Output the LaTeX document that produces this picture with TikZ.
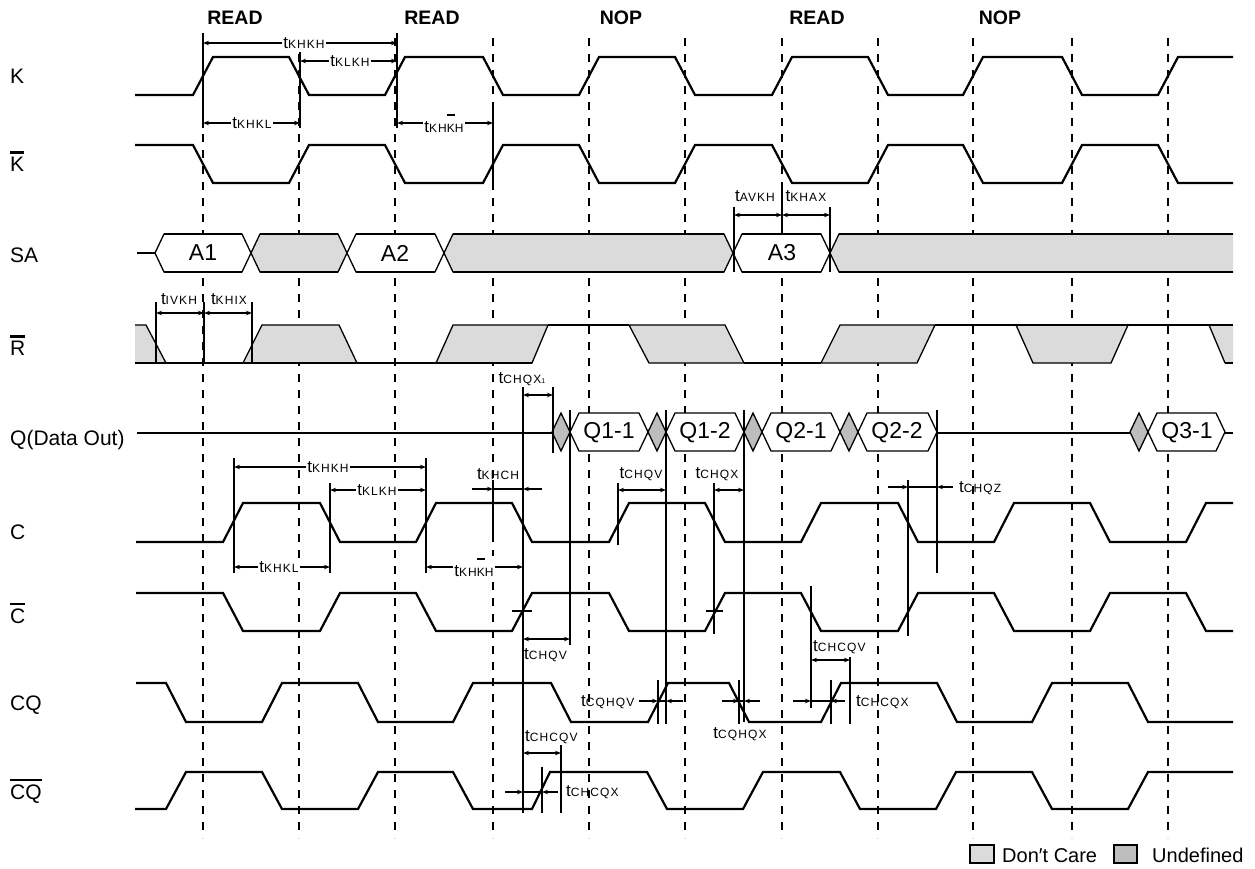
\documentclass[tikz,border=0pt]{standalone}
\usepackage{fontspec}
\setmainfont{Liberation Sans}
\usetikzlibrary{arrows.meta}
\definecolor{dcare}{gray}{0.86}
\definecolor{undef}{gray}{0.74}
\def\tm#1{{\fontsize{17}{17}\selectfont t}{\fontsize{12}{12}\selectfont\addfontfeatures{LetterSpace=9}#1}}
\def\ob#1{\setbox0\hbox{#1}\rlap{\raisebox{\dimexpr\ht0+8pt\relax}{\rule{\wd0}{2.2pt}}}\box0}
\def\nb#1{\setbox0\hbox{#1}\rlap{\raisebox{\dimexpr\ht0+3pt\relax}{\rule{\wd0}{2.6pt}}}\box0}
\def\hexa[#1](#2:#3:#4:#5){\draw[#1] (#2,{(#4+#5)/2}) -- ({#2+9},#4) -- ({#3-9},#4) -- (#3,{(#4+#5)/2}) -- ({#3-9},#5) -- ({#2+9},#5) -- cycle;}
\def\diam[#1](#2:#3:#4){\draw[#1] (#2,{(#3+#4)/2}) -- ({#2+9},#3) -- ({#2+18},{(#3+#4)/2}) -- ({#2+9},#4) -- cycle;}
\tikzset{
  wave/.style={line width=2.2pt},
  thinedge/.style={line width=1.3pt},
  dashv/.style={line width=1.8pt, dash pattern=on 8pt off 8pt},
  vbar/.style={line width=2.6pt},
  dimline/.style={line width=1.4pt, {Stealth[length=6pt,width=4.5pt]}-{Stealth[length=6pt,width=4.5pt]}},
  onehead/.style={line width=1.4pt, -{Stealth[length=6pt,width=4.5pt]}},
  tlab/.style={fill=white, inner sep=1.5pt},
  siglab/.style={anchor=base west, inner sep=0pt, font=\fontsize{21}{21}\selectfont},
  oplab/.style={font=\fontsize{19.5}{19.5}\selectfont\bfseries},
  buslab/.style={font=\fontsize{23}{23}\selectfont}
}

\begin{document}
\begin{tikzpicture}[x=1pt,y=-1pt]
		\useasboundingbox (0,0) rectangle (1255,868);
		
		%%%%% CYCLE LINES %%%%%
		\draw[dashv] (203,38) -- (203,838);
		\draw[dashv] (299,38) -- (299,838);
		\draw[dashv] (395,38) -- (395,838);
		\draw[dashv] (493,38) -- (493,838);
		\draw[dashv] (589,38) -- (589,838);
		\draw[dashv] (685,38) -- (685,838);
		\draw[dashv] (782,38) -- (782,838);
		\draw[dashv] (878,38) -- (878,838);
		\draw[dashv] (973,38) -- (973,838);
		\draw[dashv] (1072,38) -- (1072,838);
		\draw[dashv] (1168,38) -- (1168,838);
		
		\node[oplab] (op1) at (235,18) {READ};
		\node[oplab] (op2) at (432,18) {READ};
		\node[oplab] (op3) at (621,18) {NOP};
		\node[oplab] (op4) at (817,18) {READ};
		\node[oplab] (op5) at (1000,18) {NOP};
		
		\node[siglab] (sk) at (10,83) {K};
		\node[siglab] (skb) at (10,171) {\nb{K}};
		\node[siglab] (ssa) at (10,262) {SA};
		\node[siglab] (srb) at (10,355) {\nb{R}};
		\node[siglab] (sq) at (10,445) {Q(Data Out)};
		\node[siglab] (sc) at (10,539) {C};
		\node[siglab] (scb) at (10,623) {\nb{C}};
		\node[siglab] (scq) at (10,710) {CQ};
		\node[siglab] (scqb) at (10,799) {\nb{CQ}};
		
		%%%%% CLOCKS %%%%%
		\draw[wave] (135,95) -- (193,95) -- (213,57) -- (289,57) -- (309,95) -- (385,95) -- (405,57) -- (483,57) -- (503,95) -- (579,95) -- (599,57) -- (675,57) -- (695,95) -- (772,95) -- (792,57) -- (868,57) -- (888,95) -- (963,95) -- (983,57) -- (1062,57) -- (1082,95) -- (1158,95) -- (1178,57) -- (1233,57);
		\draw[wave] (135,145) -- (193,145) -- (213,183) -- (289,183) -- (309,145) -- (385,145) -- (405,183) -- (483,183) -- (503,145) -- (579,145) -- (599,183) -- (675,183) -- (695,145) -- (772,145) -- (792,183) -- (868,183) -- (888,145) -- (963,145) -- (983,183) -- (1062,183) -- (1082,145) -- (1158,145) -- (1178,183) -- (1233,183);
		
		\draw[wave] (136,542) -- (223,542) -- (243,503) -- (320,503) -- (340,542) -- (416,542) -- (436,503) -- (512,503) -- (532,542) -- (609,542) -- (629,503) -- (705,503) -- (725,542) -- (801,542) -- (821,503) -- (898,503) -- (918,542) -- (994,542) -- (1014,503) -- (1090,503) -- (1110,542) -- (1186,542) -- (1206,503) -- (1233,503);
		\draw[wave] (136,593) -- (223,593) -- (243,631) -- (320,631) -- (340,593) -- (416,593) -- (436,631) -- (512,631) -- (532,593) -- (609,593) -- (629,631) -- (705,631) -- (725,593) -- (801,593) -- (821,631) -- (898,631) -- (918,593) -- (994,593) -- (1014,631) -- (1090,631) -- (1110,593) -- (1186,593) -- (1206,631) -- (1233,631);
		
		\draw[wave] (136,683) -- (166,683) -- (186,722) -- (262,722) -- (282,683) -- (358,683) -- (378,722) -- (453,722) -- (473,683) -- (551,683) -- (571,722) -- (648,722) -- (668,683) -- (729,683) -- (749,722) -- (821,722) -- (841,683) -- (937,683) -- (957,722) -- (1032,722) -- (1052,683) -- (1128,683) -- (1148,722) -- (1233,722);
		\draw[wave] (135,809) -- (166,809) -- (186,772) -- (262,772) -- (282,809) -- (358,809) -- (378,772) -- (453,772) -- (473,809) -- (532,809) -- (550,772) -- (647,772) -- (667,809) -- (743,809) -- (763,772) -- (840,772) -- (860,809) -- (936,809) -- (956,772) -- (1032,772) -- (1052,809) -- (1128,809) -- (1148,772) -- (1233,772);
		
		%%%%% SA %%%%%
		\draw[wave] (137,253) -- (155,253);
		\hexa[fill=white,thinedge](155:251:234:272)
		\hexa[fill=dcare,thinedge](251:347:234:272)
		\hexa[fill=white,thinedge](347:444:234:272)
		\hexa[fill=dcare,thinedge](444:733:234:272)
		\hexa[fill=white,thinedge](733:830:234:272)
		\fill[dcare] (830,253) -- (839,234) -- (1233,234) -- (1233,272) -- (839,272) -- cycle;
		\draw[thinedge] (1233,234) -- (839,234) -- (830,253) -- (839,272) -- (1233,272);
		\draw[wave] (164,234) -- (242,234) (260,234) -- (338,234) (356,234) -- (435,234) (453,234) -- (724,234) (742,234) -- (821,234) (839,234) -- (1233,234);
		\draw[wave] (164,272) -- (242,272) (260,272) -- (338,272) (356,272) -- (435,272) (453,272) -- (724,272) (742,272) -- (821,272) (839,272) -- (1233,272);
		\node[buslab] (a1) at (203,253) {A1};
		\node[buslab] (a2) at (395,253) {A2};
		\node[buslab] (a3) at (782,253) {A3};
		
		%%%%% R %%%%%
		\fill[dcare] (135,325) -- (146,325) -- (166,363) -- (135,363) -- cycle;
		\draw[thinedge] (135,325) -- (146,325) -- (166,363);
		\filldraw[fill=dcare,thinedge] (243,363) -- (262,325) -- (339,325) -- (357,363) -- cycle;
		\filldraw[fill=dcare,thinedge] (436,363) -- (453,325) -- (548,325) -- (532,363) -- cycle;
		\filldraw[fill=dcare,thinedge] (629,325) -- (725,325) -- (744,363) -- (649,363) -- cycle;
		\filldraw[fill=dcare,thinedge] (821,363) -- (840,325) -- (935,325) -- (917,363) -- cycle;
		\filldraw[fill=dcare,thinedge] (1016,325) -- (1128,325) -- (1111,363) -- (1033,363) -- cycle;
		\fill[dcare] (1209,325) -- (1233,325) -- (1233,363) -- (1225,363) -- cycle;
		\draw[thinedge] (1209,325) -- (1225,363);
		\draw[wave] (135,363) -- (532,363) (548,325) -- (629,325) (744,363) -- (821,363) (935,325) -- (1233,325) (1225,363) -- (1233,363);
		
		%%%%% Q %%%%%
		\draw[wave] (137,433) -- (552,433) (937,433) -- (1130,433) (1225,433) -- (1233,433);
		\diam[fill=undef,thinedge](552:413:451)
		\diam[fill=undef,thinedge](648:413:451)
		\diam[fill=undef,thinedge](744:413:451)
		\diam[fill=undef,thinedge](840:413:451)
		\diam[fill=undef,thinedge](1130:413:451)
		\hexa[fill=white,thinedge](570:648:413:451)
		\hexa[fill=white,thinedge](666:744:413:451)
		\hexa[fill=white,thinedge](762:840:413:451)
		\hexa[fill=white,thinedge](858:937:413:451)
		\hexa[fill=white,thinedge](1148:1225:413:451)
		\node[buslab] (q11) at (609,433) {Q1-1};
		\node[buslab] (q12) at (705,433) {Q1-2};
		\node[buslab] (q21) at (801,433) {Q2-1};
		\node[buslab] (q22) at (897,433) {Q2-2};
		\node[buslab] (q31) at (1187,433) {Q3-1};
		
		%%%%% K TIMING %%%%%
		\draw[vbar] (203,33) -- (203,128);
		\draw[vbar] (300,52) -- (300,128);
		\draw[vbar] (397,33) -- (397,128);
		\draw[vbar] (493,110) -- (493,185);
		\draw[dimline] (203,43) -- (397,43);
		\draw[dimline] (300,61) -- (397,61);
		\draw[dimline] (203,123) -- (300,123);
		\draw[dimline] (397,123) -- (493,123);
		\node[tlab] (khkh1) at (304,43) {\tm{KHKH}};
		\node[tlab] (klkh1) at (350,61) {\tm{KLKH}};
		\node[tlab] (khkl1) at (252,123) {\tm{KHKL}};
		\node[tlab] (khkbh1) at (444,123) {\tm{KH\ob{K}H}};
		
		%%%%% SA TIMING %%%%%
		\draw[vbar] (734,207) -- (734,272);
		\draw[vbar] (782,188) -- (782,234);
		\draw[vbar] (830,207) -- (830,272);
		\draw[dimline] (734,215) -- (782,215);
		\draw[dimline] (782,215) -- (830,215);
		\node (avkh) at (755,196) {\tm{AVKH}};
		\node (khax) at (806,196) {\tm{KHAX}};
		
		%%%%% R TIMING %%%%%
		\draw[vbar] (156,302) -- (156,363);
		\draw[vbar] (204,302) -- (204,363);
		\draw[vbar] (252,302) -- (252,363);
		\draw[dimline] (156,313) -- (204,313);
		\draw[dimline] (204,313) -- (252,313);
		\node (ivkh) at (179,299) {\tm{IVKH}};
		\node (khix) at (229,299) {\tm{KHIX}};
		
		%%%%% C TIMING %%%%%
		\draw[vbar] (234,458) -- (234,573);
		\draw[vbar] (330,483) -- (330,573);
		\draw[vbar] (426,458) -- (426,573);
		\draw[vbar] (493,480) -- (493,542);
		\draw[dimline] (234,467) -- (426,467);
		\draw[dimline] (330,490) -- (426,490);
		\draw[dimline] (234,567) -- (330,567);
		\draw[dimline] (426,567) -- (523,567);
		\node[tlab] (khkh2) at (328,467) {\tm{KHKH}};
		\node[tlab] (klkh2) at (377,490) {\tm{KLKH}};
		\node[tlab] (khkl2) at (279,567) {\tm{KHKL}};
		\node[tlab] (khkbh2) at (474,567) {\tm{KH\ob{K}H}};
		\draw[line width=1.4pt] (493,489) -- (523,489);
		\draw[onehead] (472,489) -- (493,489);
		\draw[onehead] (542,489) -- (523,489);
		\node (khch) at (498,474) {\tm{KHCH}};
		
		%%%%% Q TIMING %%%%%
		\draw[vbar] (523,387) -- (523,813);
		\draw[vbar] (553,387) -- (553,453);
		\draw[vbar] (570,410) -- (570,645);
		\draw[dimline] (523,395) -- (553,395);
		\node (chqx1) at (522,379) {\tm{CHQX}{\fontsize{7}{7}\selectfont 1}};
		\draw[vbar] (618,483) -- (618,545);
		\draw[vbar] (666,410) -- (666,724);
		\draw[dimline] (618,490) -- (666,490);
		\node (chqv1) at (641,474) {\tm{CHQV}};
		\draw[vbar] (714,483) -- (714,634);
		\draw[vbar] (744,410) -- (744,722);
		\draw[dimline] (714,490) -- (744,490);
		\node (chqx2) at (717,474) {\tm{CHQX}};
		\draw[vbar] (908,480) -- (908,636);
		\draw[vbar] (937,410) -- (937,573);
		\draw[line width=1.4pt] (908,487) -- (937,487);
		\draw[onehead] (888,487) -- (908,487);
		\draw[onehead] (953,487) -- (937,487);
		\node[anchor=west,inner sep=0pt] (chqz) at (959,488) {\tm{CHQZ}};
		
		%%%%% C BAR TIMING %%%%%
		\draw[vbar] (512,611) -- (532,611);
		\draw[vbar] (706,611) -- (723,611);
		\draw[dimline] (523,639) -- (570,639);
		\node[anchor=west,inner sep=0pt] (chqv2) at (524,655) {\tm{CHQV}};
		\draw[vbar] (811,586) -- (811,708);
		\draw[vbar] (850,657) -- (850,724);
		\draw[dimline] (811,660) -- (850,660);
		\node[anchor=west,inner sep=0pt] (chcqv1) at (813,647) {\tm{CHCQV}};
		
		%%%%% CQ TIMING %%%%%
		\draw[vbar] (658,680) -- (658,724);
		\draw[line width=1.4pt] (658,701) -- (666,701);
		\draw[onehead] (639,701) -- (658,701);
		\draw[onehead] (683,701) -- (666,701);
		\node[anchor=west,inner sep=0pt] (cqhqv) at (581,702) {\tm{CQHQV}};
		\draw[vbar] (739,680) -- (739,724);
		\draw[line width=1.4pt] (739,701) -- (744,701);
		\draw[onehead] (722,701) -- (739,701);
		\draw[onehead] (760,701) -- (744,701);
		\node (cqhqx) at (740,734) {\tm{CQHQX}};
		\draw[vbar] (831,680) -- (831,724);
		\draw[line width=1.4pt] (811,701) -- (831,701);
		\draw[onehead] (793,701) -- (811,701);
		\draw[onehead] (845,701) -- (831,701);
		\node[anchor=west,inner sep=0pt] (chcqx1) at (856,702) {\tm{CHCQX}};
		
		%%%%% CQ BAR TIMING %%%%%
		\draw[vbar] (561,745) -- (561,813);
		\draw[dimline] (523,753) -- (561,753);
		\node[anchor=west,inner sep=0pt] (chcqv2) at (525,737) {\tm{CHCQV}};
		\draw[vbar] (542,767) -- (542,813);
		\draw[line width=1.4pt] (523,792) -- (542,792);
		\draw[onehead] (505,792) -- (523,792);
		\draw[onehead] (558,792) -- (542,792);
		\node[anchor=west,inner sep=0pt] (chcqx2) at (566,792) {\tm{CHCQX}};
		
		%%%%% LEGEND %%%%%
		\draw[line width=2.4pt, fill=dcare] (970,845) rectangle (994,863);
		\node[anchor=base west,inner sep=0pt,font=\fontsize{20}{20}\selectfont] (ldc) at (1002,862) {Don′t Care};
		\draw[line width=2.4pt, fill=undef] (1114,845) rectangle (1137,863);
		\node[anchor=base west,inner sep=0pt,font=\fontsize{20}{20}\selectfont] (lud) at (1152,862) {Undefined};
		
		%%%%% END %%%%%
	\end{tikzpicture}
\end{document}
